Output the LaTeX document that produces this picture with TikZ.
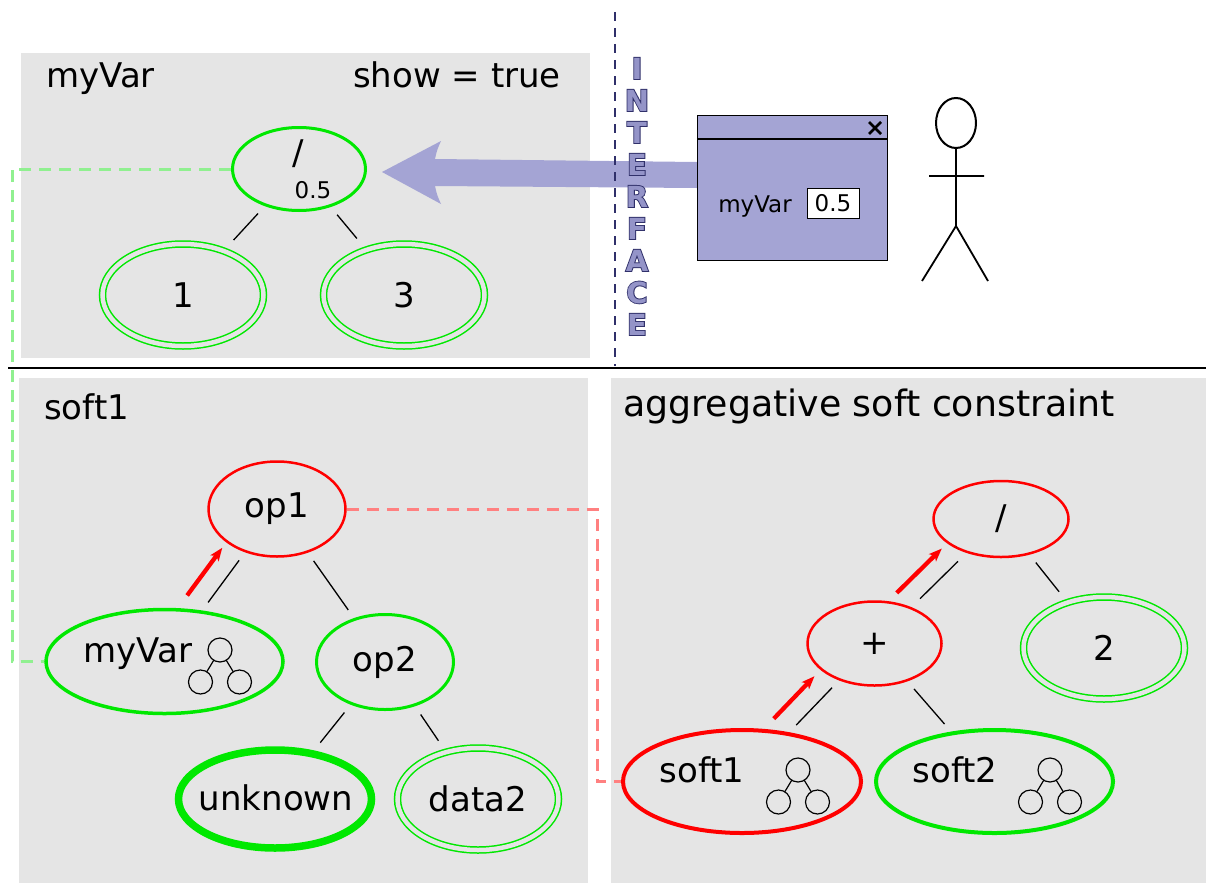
\documentclass[tikz,border=0pt]{standalone}
\usepackage{fontspec}
\setmainfont{DejaVu Sans}
\newfontfamily\ifaceback[FakeBold=6]{DejaVu Sans Bold}
\newfontfamily\ifacefront{DejaVu Sans Bold}
\usetikzlibrary{shapes.geometric,arrows.meta,calc}

\definecolor{panelgray}{HTML}{E5E5E5}
\definecolor{vgreen}{HTML}{00E800}
\definecolor{vred}{HTML}{FF0000}
\definecolor{palegreen}{HTML}{90F090}
\definecolor{palered}{HTML}{FF8080}
\definecolor{lavender}{HTML}{A4A4D4}
\definecolor{lavlight}{HTML}{9494C8}
\definecolor{navy}{HTML}{30306A}

\newcommand\bigtext{\fontsize{34}{40}\selectfont}
\newcommand\smalltext{\fontsize{23}{28}\selectfont}

\tikzset{
  panel/.style={fill=panelgray,draw=none},
  heading/.style={font=\bigtext,inner sep=0pt},
  label/.style={font=\bigtext,inner sep=0pt},
  gnode/.style={ellipse,draw=vgreen,line width=3pt,inner sep=0pt,font=\bigtext},
  rnode/.style={ellipse,draw=vred,line width=2.5pt,inner sep=0pt,font=\bigtext},
  dnode/.style={ellipse,draw=vgreen,line width=1.5pt,double=panelgray,
    double distance=4.5pt,inner sep=0pt,minimum width=161pt,minimum height=102pt,
    font=\bigtext},
  treeedge/.style={line width=1.3pt,shorten <=10pt,shorten >=10pt},
  flowarrow/.style={vred,line width=4.3pt,shorten <=5pt,shorten >=8pt,
    -{Stealth[length=13pt,width=10pt,inset=3pt]}},
  linkgreen/.style={palegreen,line width=3pt,dash pattern=on 12pt off 8pt},
  linkred/.style={palered,line width=3pt,dash pattern=on 12pt off 8pt},
  minitree/.pic={
    \draw[line width=1.2pt] (0,0) circle[radius=12pt]
      (-19.5,32) circle[radius=12pt] (19.5,32) circle[radius=12pt];
    \draw[line width=1.2pt] (-6.3,10.3) -- (-13.2,21.7) (6.3,10.3) -- (13.2,21.7);
  }
}

\begin{document}
\begin{tikzpicture}[x=1pt,y=-1pt]
\useasboundingbox (0,0) rectangle (1206,883);

% background panels
\fill[panel] (21,53) rectangle (590,358);
\fill[panel] (19,378) rectangle (588,883);
\fill[panel] (611,378) rectangle (1206,883);

% separator between the model and the program
\draw[line width=2.5pt] (8,368) -- (1206,368);

% user window and its fat arrow towards the variable
\node[draw=black,line width=1.5pt,fill=lavender,minimum width=190pt,
  minimum height=145pt,inner sep=0pt] (win) at (792.5,188) {};
\fill[lavender] (382,172) -- (441,141) .. controls (437,150) .. (435,159)
  -- ($(win.west)+(0,-26)$) -- (win.west) -- (435,186)
  .. controls (437,195) .. (441,204) -- cycle;
\node[draw=black,line width=1.5pt,fill=lavender,minimum width=190pt,
  minimum height=145pt,inner sep=0pt] (winframe) at (win) {};
\draw[line width=1.5pt] ($(winframe.north west)+(0,24)$) -- ($(winframe.north east)+(0,24)$);
\draw[line width=2.5pt] (869,122) -- (881,134) (869,134) -- (881,122);
\node[font=\smalltext,inner sep=0pt,anchor=base] (winlabel) at (755,212) {myVar};
\node[draw=black,fill=white,line width=1pt,minimum width=52pt,minimum height=30pt,
  inner sep=0pt,font=\smalltext] (winval) at (833,203) {0.5};

% interface boundary
\draw[navy,line width=1.6pt,dash pattern=on 9pt off 7pt] (615,12) -- (615,366);
\foreach \ch [count=\i from 0] in {I,N,T,E,R,F,A,C,E} {
  \node[anchor=base,inner sep=0pt,font=\ifaceback\fontsize{29}{30}\selectfont,
    text=navy] (ifb\i) at (637,{79+32*\i}) {\ch};
  \node[anchor=base,inner sep=0pt,font=\ifacefront\fontsize{29}{30}\selectfont,
    text=lavlight] (iff\i) at (637,{79+32*\i}) {\ch};
}

% the user
\node[ellipse,draw,line width=2pt,minimum width=40pt,minimum height=50pt,
  inner sep=0pt] (head) at (956,123) {};
\coordinate (hip) at (956,226);
\coordinate (lhand) at (929,176);
\coordinate (rhand) at (984,176);
\coordinate (lfoot) at (922,281);
\coordinate (rfoot) at (988,281);
\draw[line width=1.8pt] (head.south) -- (hip) -- (lfoot) (hip) -- (rfoot) (lhand) -- (rhand);

% panel headings
\node[heading,anchor=base west] (hdrvar) at (46,87) {myVar};
\node[heading,anchor=base east] (hdrshow) at (561,87) {show = true};
\node[heading,anchor=base west] (hdrsoft) at (44,419) {soft1};
\node[heading,anchor=base west,font=\fontsize{36.3}{42}\selectfont] (hdragg) at (623,416)
  {aggregative soft constraint};

% variable myVar
\node[gnode,minimum width=133pt,minimum height=83pt] (topdiv) at (299,169) {};
\node[label] (topdivop) at (298,154) {/};
\node[label,font=\smalltext] (topdivval) at (313,190) {0.5};
\node[dnode] (one) at (183,295) {1};
\node[dnode] (three) at (404,295) {3};
\draw[treeedge,shorten >=14pt] (topdiv) -- (one);
\draw[treeedge,shorten >=14pt] (topdiv) -- (three);

% soft constraint soft1
\node[rnode,minimum width=137pt,minimum height=95pt] (op1) at (277,509) {op1};
\node[gnode,line width=3.5pt,minimum width=237pt,minimum height=104pt] (mv) at (164.5,661.5) {};
\node[label,anchor=base] (mvtxt) at (138,662) {myVar};
\pic at (220,650) {minitree};
\node[gnode,minimum width=137pt,minimum height=95pt] (op2) at (385,662) {op2};
\node[gnode,line width=7.5pt,minimum width=193pt,minimum height=98pt] (unk) at (275,799) {};
\node[label] (unktxt) at (276,798) {unknown};
\node[dnode] (data) at (478,799) {data2};
\draw[treeedge] (op1) -- (mv);
\draw[flowarrow,transform canvas={shift={(-18,-11)}}] (mv) -- (op1);
\draw[treeedge] (op1) -- (op2);
\draw[treeedge] (op2) -- (unk);
\draw[treeedge,shorten >=13pt] (op2) -- (data);

% aggregative soft constraint
\node[rnode,minimum width=135pt,minimum height=76pt] (agdiv) at (1001,519) {/};
\node[rnode,minimum width=134pt,minimum height=84pt] (plus) at (874.5,643.5) {+};
\node[dnode] (two) at (1104,648) {2};
\node[rnode,line width=4pt,minimum width=238pt,minimum height=103pt] (s1) at (742,781.5) {};
\node[label,anchor=base] (s1txt) at (702,782) {soft1};
\pic at (798,770) {minitree};
\node[gnode,line width=4pt,minimum width=237pt,minimum height=103pt] (s2) at (994.5,781.5) {};
\node[label,anchor=base] (s2txt) at (955,782) {soft2};
\pic at (1050,770) {minitree};
\draw[treeedge,shorten <=12pt,shorten >=12pt] (agdiv) -- (plus);
\draw[flowarrow,shorten <=6pt,shorten >=8pt,transform canvas={shift={(-19,-10)}}] (plus) -- (agdiv);
\draw[treeedge,shorten >=13pt] (agdiv) -- (two);
\draw[treeedge] (plus) -- (s1);
\draw[flowarrow,transform canvas={shift={(-19,-10)}}] (s1) -- (plus);
\draw[treeedge] (plus) -- (s2);

% links between a reference and its definition
\coordinate (gbend) at (12,661.5);
\draw[linkgreen] (topdiv.west) -| (gbend) -- (mv.west);
\coordinate (rbend) at (597,781.5);
\draw[linkred] (op1.east) -| (rbend) -- (s1.west);
\end{tikzpicture}
\end{document}
